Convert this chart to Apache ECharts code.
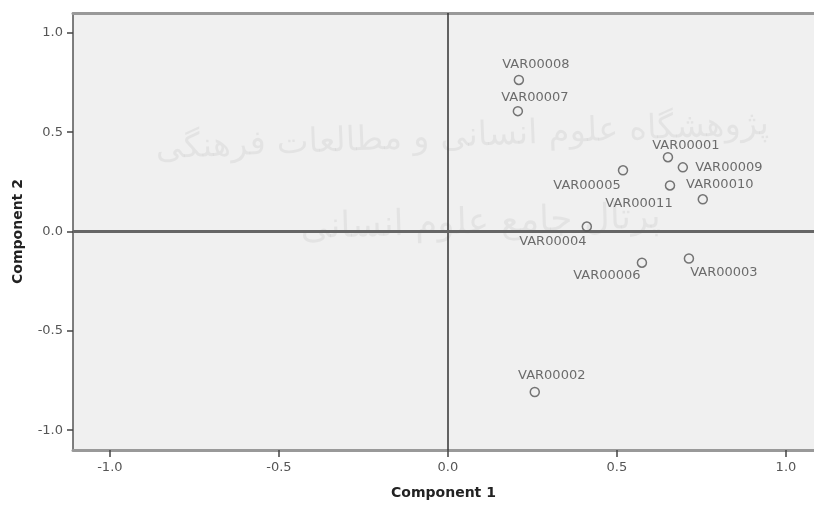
<!DOCTYPE html>
<html>
<head>
<meta charset="utf-8">
<script src="https://cdn.jsdelivr.net/npm/echarts@6/dist/echarts.min.js"></script>
<style>
  html, body { margin: 0; padding: 0; background: #fff; }
  #chart { width: 814px; height: 508px; }
</style>
</head>
<body>
<div id="chart"></div>
<script>
// component loadings (Component 1, Component 2)
const names = ['VAR00001', 'VAR00002', 'VAR00003', 'VAR00004', 'VAR00005', 'VAR00006',
  'VAR00007', 'VAR00008', 'VAR00009', 'VAR00010', 'VAR00011']
const comp1 = [0.651, 0.257, 0.713, 0.411, 0.518, 0.574, 0.207, 0.210, 0.695, 0.754, 0.657]
const comp2 = [0.374, -0.808, -0.136, 0.025, 0.308, -0.157, 0.606, 0.763, 0.323, 0.162, 0.232]
const tickValues = [-1.0, -0.5, 0.0, 0.5, 1.0]

// where each point label sits relative to its marker (px)
const labelOffset = {
  VAR00001: [18, -12],
  VAR00002: [17, -16],
  VAR00003: [35, 14],
  VAR00004: [-34, 15],
  VAR00005: [-36, 15],
  VAR00006: [-35, 13],
  VAR00007: [17, -14],
  VAR00008: [17, -15],
  VAR00009: [46, 0],
  VAR00010: [17, -15],
  VAR00011: [-31, 18]
}

const font = 'DejaVu Sans'
const points = names.map((n, i) => ({
  name: n,
  value: [comp1[i], comp2[i]],
  label: { offset: labelOffset[n] }
}))

const myChart = echarts.init(document.getElementById('chart'))
const option = {
  animation: false,
  backgroundColor: '#fff',
  grid: {
    left: 73,
    top: 13,
    right: 0,
    bottom: 58,
    show: true,
    backgroundColor: '#f0f0f0',
    borderWidth: 0
  },
  graphic: [
    {
      type: 'text', left: 155, top: 108, rotation: 0.04, z: 0,
      style: { text: 'پژوهشگاه علوم انسانی و مطالعات فرهنگی', font: '34px "DejaVu Sans"', fill: 'rgba(0,0,0,0.05)' }
    },
    {
      type: 'text', left: 300, top: 200, rotation: 0.03, z: 0,
      style: { text: 'پرتال جامع علوم انسانی', font: '36px "DejaVu Sans"', fill: 'rgba(0,0,0,0.05)' }
    }
  ],
  xAxis: [{
    type: 'value',
    min: -1.109,
    max: 1.083,
    position: 'bottom',
    name: 'Component 1',
    nameLocation: 'middle',
    nameGap: 36,
    nameTextStyle: { fontFamily: font, fontWeight: 'bold', fontSize: 14, color: '#222' },
    axisLine: { show: true, onZero: false, lineStyle: { color: '#999', width: 3 } },
    axisTick: { show: true, length: 7, customValues: tickValues, lineStyle: { color: '#444', width: 1.5 } },
    axisLabel: {
      customValues: tickValues,
      margin: 11,
      fontFamily: font,
      fontSize: 13,
      color: '#555',
      formatter: v => v.toFixed(1)
    },
    splitLine: { show: false }
  }, {
    type: 'value',
    min: -1.109,
    max: 1.083,
    position: 'top',
    axisLine: { show: true, onZero: false, lineStyle: { color: '#999', width: 3 } },
    axisTick: { show: false },
    axisLabel: { show: false },
    splitLine: { show: false }
  }],
  yAxis: {
    type: 'value',
    min: -1.1,
    max: 1.1,
    name: 'Component 2',
    nameLocation: 'middle',
    nameGap: 48,
    nameTextStyle: { fontFamily: font, fontWeight: 'bold', fontSize: 14, color: '#222' },
    axisLine: { show: true, onZero: false, lineStyle: { color: '#555', width: 1.5 } },
    axisTick: { show: true, length: 6, customValues: tickValues, lineStyle: { color: '#444', width: 1.5 } },
    axisLabel: {
      customValues: tickValues,
      margin: 10,
      fontFamily: font,
      fontSize: 13,
      color: '#555',
      formatter: v => v.toFixed(1)
    },
    splitLine: { show: false }
  },
  series: [{
    type: 'scatter',
    symbol: 'circle',
    symbolSize: 9,
    itemStyle: { color: 'rgba(0,0,0,0)', borderColor: '#555', borderWidth: 1.5 },
    label: {
      show: true,
      position: 'inside',
      formatter: '{b}',
      fontFamily: font,
      fontSize: 13,
      color: '#4a4a4a',
      align: 'center',
      verticalAlign: 'middle'
    },
    emphasis: { disabled: true },
    markLine: {
      silent: true,
      symbol: 'none',
      label: { show: false },
      z: 1,
      data: [
        { xAxis: 0, lineStyle: { color: '#333', width: 1.5, type: 'solid' } },
        { yAxis: 0, lineStyle: { color: '#666', width: 3, type: 'solid' } }
      ]
    },
    data: points
  }]
}
myChart.setOption(option, true)
window.addEventListener('resize', function () {
  myChart.resize()
})
</script>
</body>
</html>
